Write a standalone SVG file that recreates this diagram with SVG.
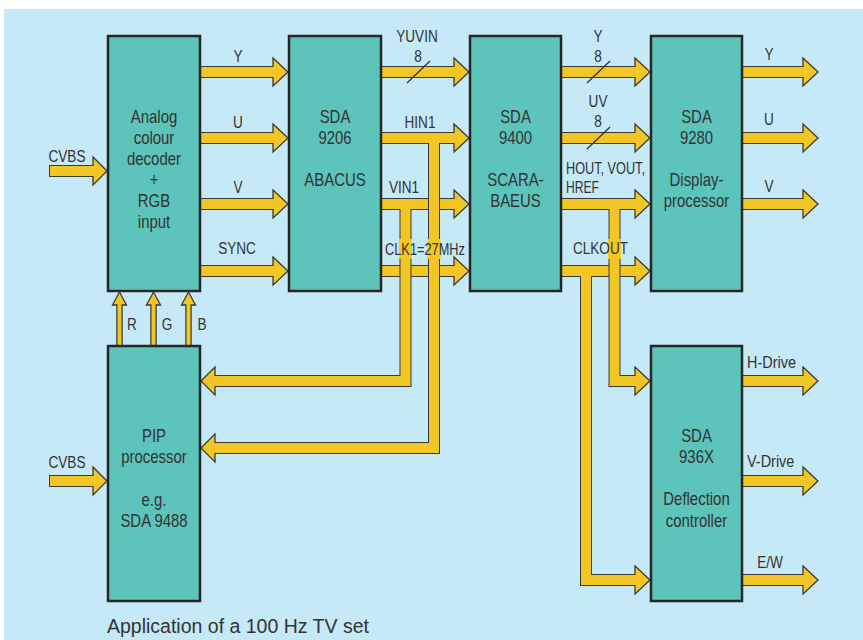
<svg xmlns="http://www.w3.org/2000/svg" width="863" height="640" viewBox="0 0 863 640">
<style>
.bg{fill:#c6e9f8}
.box{fill:#5cc4bb;stroke:#262626;stroke-width:2.5}
.o{fill:none;stroke:#3a3a3a;stroke-width:12;stroke-linejoin:miter;stroke-linecap:butt}
.f{fill:none;stroke:#f2c624;stroke-width:10;stroke-linejoin:miter;stroke-linecap:butt}
.to{fill:none;stroke:#3a3a3a;stroke-width:6.5}
.tf{fill:none;stroke:#f2c624;stroke-width:4}
.h{fill:#f2c624;stroke:#3a3a3a;stroke-width:1.3;stroke-linejoin:miter}
.p{fill:#f2c624}
.sl{stroke:#333;stroke-width:1.3}
text{font-family:"Liberation Sans",Arial,sans-serif;fill:#333}
.bt{font-size:18px;text-anchor:middle}
.lb{font-size:17px;text-anchor:middle}
.ls{font-size:17px;text-anchor:start}
.cap{font-size:19.5px}
</style>
<rect class="bg" x="4" y="9" width="859" height="631"/>

<g id="connectors">
  <!-- CVBS inputs -->
  <g>
    <path class="o" d="M49 171H94M49 481H94"/>
    <polygon class="h" points="93,157 107,171 93,185"/>
    <polygon class="h" points="93,467 107,481 93,495"/>
    <path class="f" d="M50 171H94M50 481H94"/>
  </g>
  <!-- box1 to box2 -->
  <g>
    <path class="o" d="M200 72H274M200 138H274M200 204H274M200 271H274"/>
    <polygon class="h" points="273,58 288,72 273,86"/>
    <polygon class="h" points="273,124 288,138 273,152"/>
    <polygon class="h" points="273,190 288,204 273,218"/>
    <polygon class="h" points="273,257 288,271 273,285"/>
    <path class="f" d="M201 72H274M201 138H274M201 204H274M201 271H274"/>
  </g>
  <!-- RGB -->
  <g>
    <path class="to" d="M119.5 346V304M153.5 346V304M188.5 346V304"/>
    <polygon class="h" points="112.5,305 119.5,292 126.5,305"/>
    <polygon class="h" points="146.5,305 153.5,292 160.5,305"/>
    <polygon class="h" points="181.5,305 188.5,292 195.5,305"/>
    <path class="tf" d="M119.5 345V304M153.5 345V304M188.5 345V304"/>
  </g>
  <!-- YUVIN -->
  <g>
    <path class="o" d="M381 72H455"/>
    <polygon class="h" points="454,58 469,72 454,86"/>
    <path class="f" d="M382 72H455"/>
  </g>
  <!-- CLK1 -->
  <g>
    <path class="o" d="M381 271H455"/>
    <polygon class="h" points="454,257 469,271 454,285"/>
    <path class="f" d="M382 271H455"/>
  </g>
  <!-- VIN1 with branch to PIP -->
  <g>
    <path class="o" d="M381 204H455M405.5 204V381H214"/>
    <polygon class="h" points="454,190 469,204 454,218"/>
    <polygon class="h" points="215,367 201,381 215,395"/>
    <path class="f" d="M382 204H455M405.5 204V381H214"/>
  </g>
  <!-- HIN1 with branch to PIP -->
  <g>
    <path class="o" d="M381 138H455M434 138V448H214"/>
    <polygon class="h" points="454,124 469,138 454,152"/>
    <polygon class="h" points="215,434 201,448 215,462"/>
    <path class="f" d="M382 138H455M434 138V448H214"/>
  </g>
  <!-- label patches over bars -->
  <rect class="p" x="399" y="239" width="13" height="20"/>
  <rect class="p" x="427.5" y="239" width="13" height="20"/>
  <!-- box3 to box4 Y, UV -->
  <g>
    <path class="o" d="M561 72H636M561 138H636"/>
    <polygon class="h" points="635,58 650,72 635,86"/>
    <polygon class="h" points="635,124 650,138 635,152"/>
    <path class="f" d="M562 72H636M562 138H636"/>
  </g>
  <!-- CLKOUT with branch to deflection -->
  <g>
    <path class="o" d="M561 271H636M586 271V580H636"/>
    <polygon class="h" points="635,257 650,271 635,285"/>
    <polygon class="h" points="635,566 650,580 635,594"/>
    <path class="f" d="M562 271H636M586 271V580H636"/>
  </g>
  <!-- HOUT with branch to deflection -->
  <g>
    <path class="o" d="M561 204H636M614.5 204V381H636"/>
    <polygon class="h" points="635,190 650,204 635,218"/>
    <polygon class="h" points="635,367 650,381 635,395"/>
    <path class="f" d="M562 204H636M614.5 204V381H636"/>
  </g>
  <rect class="p" x="608" y="239" width="13" height="20"/>
  <!-- box4 outputs -->
  <g>
    <path class="o" d="M742 72H804M742 138H804M742 204H804"/>
    <polygon class="h" points="803,58 818,72 803,86"/>
    <polygon class="h" points="803,124 818,138 803,152"/>
    <polygon class="h" points="803,190 818,204 803,218"/>
    <path class="f" d="M743 72H804M743 138H804M743 204H804"/>
  </g>
  <!-- box6 outputs -->
  <g>
    <path class="o" d="M742 381H804M742 481H804M742 580H804"/>
    <polygon class="h" points="803,367 818,381 803,395"/>
    <polygon class="h" points="803,467 818,481 803,495"/>
    <polygon class="h" points="803,566 818,580 803,594"/>
    <path class="f" d="M743 381H804M743 481H804M743 580H804"/>
  </g>
  <!-- bus slashes -->
  <line class="sl" x1="407" y1="83" x2="430" y2="61"/>
  <line class="sl" x1="587" y1="83" x2="610" y2="61"/>
  <line class="sl" x1="587" y1="149" x2="610" y2="127"/>
  <!-- connector labels -->
  <g>
    <text class="lb" transform="matrix(0.8 0 0 1 67 162)">CVBS</text>
    <text class="lb" transform="matrix(0.8 0 0 1 67 468)">CVBS</text>
    <text class="lb" transform="matrix(0.8 0 0 1 238 62)">Y</text>
    <text class="lb" transform="matrix(0.8 0 0 1 238 128)">U</text>
    <text class="lb" transform="matrix(0.8 0 0 1 238 193)">V</text>
    <text class="lb" transform="matrix(0.8 0 0 1 237 254)">SYNC</text>
    <text class="lb" transform="matrix(0.8 0 0 1 132 330)">R</text>
    <text class="lb" transform="matrix(0.8 0 0 1 167 330)">G</text>
    <text class="lb" transform="matrix(0.8 0 0 1 202 330)">B</text>
    <text class="lb" transform="matrix(0.8 0 0 1 417 42)">YUVIN</text>
    <text class="lb" transform="matrix(0.8 0 0 1 418 62)">8</text>
    <text class="lb" transform="matrix(0.8 0 0 1 420 128)">HIN1</text>
    <text class="lb" transform="matrix(0.8 0 0 1 404 193)">VIN1</text>
    <text class="ls" x="385" y="255" textLength="80" lengthAdjust="spacingAndGlyphs">CLK1=27MHz</text>
    <text class="lb" transform="matrix(0.8 0 0 1 598 42)">Y</text>
    <text class="lb" transform="matrix(0.8 0 0 1 598 62)">8</text>
    <text class="lb" transform="matrix(0.8 0 0 1 598 107)">UV</text>
    <text class="lb" transform="matrix(0.8 0 0 1 598 127)">8</text>
    <text class="ls" x="566" y="174" textLength="79" lengthAdjust="spacingAndGlyphs">HOUT, VOUT,</text>
    <text class="ls" x="566" y="193" textLength="33" lengthAdjust="spacingAndGlyphs">HREF</text>
    <text class="ls" x="573" y="254" textLength="55" lengthAdjust="spacingAndGlyphs">CLKOUT</text>
    <text class="lb" transform="matrix(0.8 0 0 1 769 60)">Y</text>
    <text class="lb" transform="matrix(0.8 0 0 1 769 125)">U</text>
    <text class="lb" transform="matrix(0.8 0 0 1 769 192)">V</text>
    <text class="ls" transform="matrix(0.85 0 0 1 747 368)">H-Drive</text>
    <text class="ls" transform="matrix(0.85 0 0 1 747 467)">V-Drive</text>
    <text class="lb" transform="matrix(0.8 0 0 1 770 568)">E/W</text>
  </g>
</g>

<g id="decoder">
  <rect class="box" x="108" y="36" width="92" height="255"/>
  <text class="bt" transform="matrix(0.83 0 0 1 154 123)">Analog</text>
  <text class="bt" transform="matrix(0.83 0 0 1 154 144)">colour</text>
  <text class="bt" transform="matrix(0.83 0 0 1 154 165)">decoder</text>
  <text class="bt" transform="matrix(0.83 0 0 1 154 186)">+</text>
  <text class="bt" transform="matrix(0.83 0 0 1 154 207)">RGB</text>
  <text class="bt" transform="matrix(0.83 0 0 1 154 228)">input</text>
</g>
<g id="abacus">
  <rect class="box" x="289" y="36" width="92" height="255"/>
  <text class="bt" transform="matrix(0.83 0 0 1 335 123)">SDA</text>
  <text class="bt" transform="matrix(0.83 0 0 1 335 144)">9206</text>
  <text class="bt" transform="matrix(0.83 0 0 1 335 186)">ABACUS</text>
</g>
<g id="scarabaeus">
  <rect class="box" x="470" y="36" width="91" height="255"/>
  <text class="bt" transform="matrix(0.83 0 0 1 515.5 123)">SDA</text>
  <text class="bt" transform="matrix(0.83 0 0 1 515.5 144)">9400</text>
  <text class="bt" transform="matrix(0.83 0 0 1 515.5 186)">SCARA-</text>
  <text class="bt" transform="matrix(0.83 0 0 1 515.5 207)">BAEUS</text>
</g>
<g id="display">
  <rect class="box" x="651" y="36" width="91" height="255"/>
  <text class="bt" transform="matrix(0.83 0 0 1 696.5 123)">SDA</text>
  <text class="bt" transform="matrix(0.83 0 0 1 696.5 144)">9280</text>
  <text class="bt" transform="matrix(0.83 0 0 1 696.5 186)">Display-</text>
  <text class="bt" transform="matrix(0.83 0 0 1 696.5 207)">processor</text>
</g>
<g id="pip">
  <rect class="box" x="108" y="346" width="92" height="255"/>
  <text class="bt" transform="matrix(0.83 0 0 1 154 442)">PIP</text>
  <text class="bt" transform="matrix(0.83 0 0 1 154 463)">processor</text>
  <text class="bt" transform="matrix(0.83 0 0 1 154 506)">e.g.</text>
  <text class="bt" transform="matrix(0.83 0 0 1 154 527)">SDA 9488</text>
</g>
<g id="deflection">
  <rect class="box" x="651" y="346" width="91" height="255"/>
  <text class="bt" transform="matrix(0.83 0 0 1 696.5 442)">SDA</text>
  <text class="bt" transform="matrix(0.83 0 0 1 696.5 463)">936X</text>
  <text class="bt" transform="matrix(0.83 0 0 1 696.5 505)">Deflection</text>
  <text class="bt" transform="matrix(0.83 0 0 1 696.5 527)">controller</text>
</g>
<text class="cap" x="107" y="633">Application of a 100 Hz TV set</text>
</svg>
